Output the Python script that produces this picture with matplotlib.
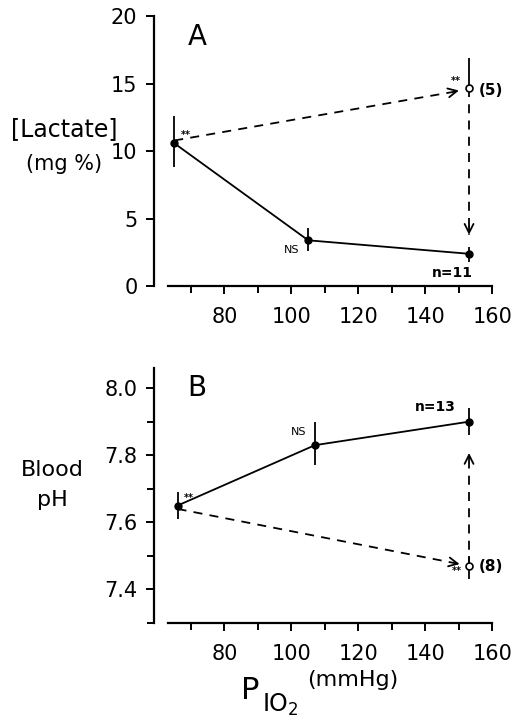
import numpy as np
import matplotlib.pyplot as plt

# Daten
po2 = [65, 105, 153]
lactate = [10.6, 3.4, 2.4]
lactate_lo = [8.8, 2.6, 1.8]
lactate_hi = [12.6, 4.3, 2.9]
lactate_open_x = 153
lactate_open = 14.7
lactate_open_hi = 16.9

ph_x = [66, 107, 153]
ph = [7.65, 7.83, 7.90]
ph_lo = [7.61, 7.77, 7.86]
ph_hi = [7.69, 7.90, 7.94]
ph_open_x = 153
ph_open = 7.47
ph_open_lo = 7.43
ph_open_hi = 7.50

x_major = [80, 100, 120, 140, 160]
x_minor = [70, 90, 110, 130, 150]

FONT = "DejaVu Sans"
plt.rcParams["font.family"] = [FONT]

fig = plt.figure(figsize=(5.12, 7.19), dpi=100)
fig.patch.set_facecolor("white")

axA = fig.add_axes([0.301, 0.602, 0.674, 0.377])
axB = fig.add_axes([0.301, 0.1335, 0.674, 0.3547])


def style(ax):
    ax.spines[["top", "right"]].set_visible(False)
    ax.spines["bottom"].set_bounds(63, 160)
    ax.spines["bottom"].set_linewidth(1.6)
    ax.spines["left"].set_linewidth(1.6)
    ax.set_xlim(59, 162)
    ax.set_xticks(x_major)
    ax.set_xticks(x_minor, minor=True)
    ax.tick_params(axis="both", which="both", direction="out", width=1.4,
                   labelsize=15, pad=6)
    ax.tick_params(axis="both", which="major", length=6)
    ax.tick_params(axis="both", which="minor", length=5)
    ax.tick_params(axis="x", pad=9)


# Panel A
style(axA)
axA.set_ylim(0, 20.1)
axA.set_yticks([0, 5, 10, 15, 20])
axA.set_yticklabels(["0", "5", "10", "15", "20"])
axA.spines["left"].set_bounds(0, 20)

axA.vlines(po2, lactate_lo, lactate_hi, color="black", lw=1.3)
axA.plot(po2, lactate, "-o", color="black", lw=1.3, ms=5)
axA.vlines(lactate_open_x, lactate_open, lactate_open_hi, color="black", lw=1.3)
axA.plot([po2[0], 150.5], [lactate[0] + 0.2, 14.5], "--", color="black", lw=1.3,
         dashes=(5, 4))
axA.annotate("", xy=(150.8, 14.55), xytext=(148, 14.4),
             arrowprops=dict(arrowstyle="->", lw=1.3, mutation_scale=16))
axA.plot([lactate_open_x, lactate_open_x], [lactate_open, 3.8], "--",
         color="black", lw=1.3, dashes=(5, 4))
axA.annotate("", xy=(lactate_open_x, 3.6), xytext=(lactate_open_x, 4.6),
             arrowprops=dict(arrowstyle="->", lw=1.3, mutation_scale=16))
axA.plot(lactate_open_x, lactate_open, "o", mfc="white", mec="black", ms=5, mew=1.2)

axA.text(67, 11.0, "**", fontsize=7, fontweight="bold")
axA.text(147.5, 15.0, "**", fontsize=7, fontweight="bold")
axA.text(156, 14.5, "(5)", fontsize=11, fontweight="bold", va="center")
axA.text(102.5, 2.7, "NS", fontsize=8, ha="right", va="center")
axA.text(148, 1.0, "n=11", fontsize=10, fontweight="bold", ha="center", va="center")
axA.text(69, 18.5, "A", fontsize=20, va="center")

fig.text(0.125, 0.821, "[Lactate]", fontsize=17, ha="center", va="center")
fig.text(0.125, 0.772, "(mg %)", fontsize=15, ha="center", va="center")

# Panel B
style(axB)
axB.set_ylim(7.3, 8.06)
axB.set_yticks([7.4, 7.6, 7.8, 8.0])
axB.set_yticks([7.3, 7.5, 7.7, 7.9], minor=True)
axB.set_yticklabels(["7.4", "7.6", "7.8", "8.0"])

axB.vlines(ph_x, ph_lo, ph_hi, color="black", lw=1.3)
axB.plot(ph_x, ph, "-o", color="black", lw=1.3, ms=5)
axB.vlines(ph_open_x, ph_open_lo, ph_open_hi, color="black", lw=1.3)
axB.plot([ph_x[0], 150.5], [ph[0] - 0.01, ph_open + 0.005], "--", color="black",
         lw=1.3, dashes=(5, 4))
axB.annotate("", xy=(151.0, ph_open + 0.004), xytext=(148, ph_open + 0.01),
             arrowprops=dict(arrowstyle="->", lw=1.3, mutation_scale=16))
axB.plot([ph_open_x, ph_open_x], [ph_open, 7.79], "--", color="black", lw=1.3,
         dashes=(5, 4))
axB.annotate("", xy=(ph_open_x, 7.815), xytext=(ph_open_x, 7.78),
             arrowprops=dict(arrowstyle="->", lw=1.3, mutation_scale=16))
axB.plot(ph_open_x, ph_open, "o", mfc="white", mec="black", ms=5, mew=1.2)

axB.text(68, 7.665, "**", fontsize=7, fontweight="bold")
axB.text(148, 7.445, "**", fontsize=7, fontweight="bold")
axB.text(156, 7.468, "(8)", fontsize=11, fontweight="bold", va="center")
axB.text(104.5, 7.87, "NS", fontsize=8, ha="right", va="center")
axB.text(143, 7.945, "n=13", fontsize=10, fontweight="bold", ha="center", va="center")
axB.text(69, 8.0, "B", fontsize=20, va="center")

fig.text(0.103, 0.347, "Blood", fontsize=16, ha="center", va="center")
fig.text(0.103, 0.305, "pH", fontsize=16, ha="center", va="center")

# x-Achsenbeschriftung
fig.text(0.470, 0.040, "P", fontsize=22, ha="left", va="center")
fig.text(0.512, 0.020, r"I$\mathregular{O_2}$", fontsize=17, ha="left", va="center")
fig.text(0.600, 0.054, "(mmHg)", fontsize=16, ha="left", va="center")

fig.savefig("out.png", dpi=100)
